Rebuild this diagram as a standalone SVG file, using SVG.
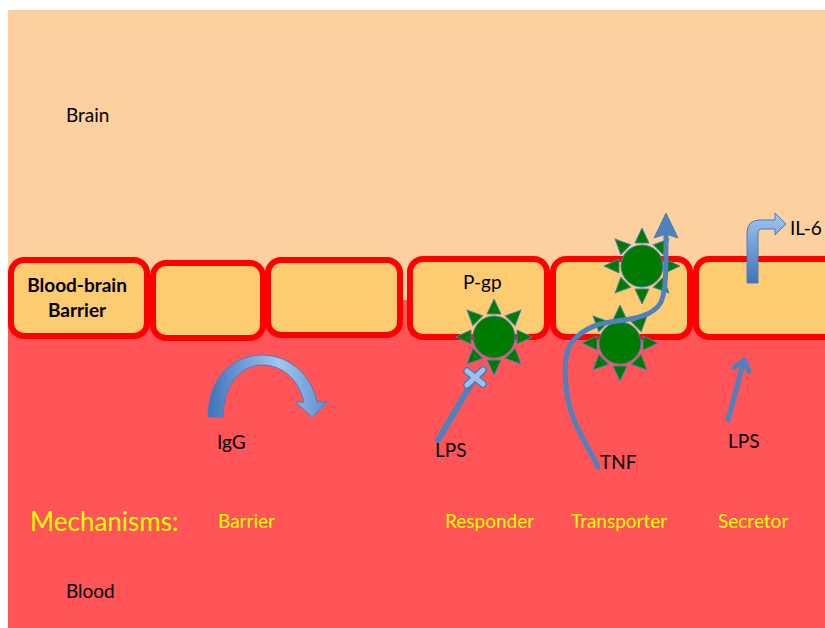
<svg xmlns="http://www.w3.org/2000/svg" width="825" height="628" viewBox="0 0 825 628">
  <style>
    .cell { fill: #FDCB70; stroke: #FF0000; stroke-width: 6; }
    .lbl { font-family: Lato, "Liberation Sans", sans-serif; font-size: 19px; fill: #000; }
    .bold { font-weight: bold; }
    .mech { font-family: Lato, "Liberation Sans", sans-serif; font-size: 19px; fill: #FFFF00; }
    .flow { fill: none; stroke: #4F81BD; stroke-linecap: round; stroke-linejoin: round; }
  </style>
  <defs>
    <!-- P-glycoprotein: green disc with eight triangular rays -->
    <g id="pgp">
      <g fill="#007A00" stroke="#4A7EBB" stroke-width="1">
        <polygon points="0,-38 -7,-23 7,-23"/>
        <polygon points="0,-38 -7,-23 7,-23" transform="rotate(45)"/>
        <polygon points="0,-38 -7,-23 7,-23" transform="rotate(90)"/>
        <polygon points="0,-38 -7,-23 7,-23" transform="rotate(135)"/>
        <polygon points="0,-38 -7,-23 7,-23" transform="rotate(180)"/>
        <polygon points="0,-38 -7,-23 7,-23" transform="rotate(225)"/>
        <polygon points="0,-38 -7,-23 7,-23" transform="rotate(270)"/>
        <polygon points="0,-38 -7,-23 7,-23" transform="rotate(315)"/>
        <circle r="21"/>
      </g>
    </g>
    <linearGradient id="archGrad" x1="0" y1="0" x2="1" y2="0">
      <stop offset="0" stop-color="#3D73BC"/>
      <stop offset="0.6" stop-color="#A3C6EE"/>
      <stop offset="1" stop-color="#5A8FD3"/>
    </linearGradient>
    <linearGradient id="bentGrad" x1="0" y1="0" x2="0" y2="1">
      <stop offset="0" stop-color="#A3C6EE"/>
      <stop offset="1" stop-color="#3D73BC"/>
    </linearGradient>
    <marker id="openHead" markerWidth="20" markerHeight="20" refX="13" refY="10" orient="auto" markerUnits="userSpaceOnUse">
      <path d="M3,2 L13,10 L3,18" fill="none" stroke="#4F81BD" stroke-width="5" stroke-linecap="round" stroke-linejoin="round"/>
    </marker>
  </defs>

  <!-- compartments -->
  <g id="background">
    <rect x="0" y="0" width="825" height="628" fill="#FFFFFF"/>
    <rect x="8" y="10" width="817" height="290" fill="#FDD09F"/>
    <rect x="8" y="300" width="817" height="328" fill="#FF5458"/>
  </g>

  <!-- endothelial cells of the barrier -->
  <g id="cell1"><rect class="cell" x="11" y="260" width="136" height="76" rx="13"/></g>
  <g id="cell2"><rect class="cell" x="153" y="263" width="110" height="75" rx="13"/></g>
  <g id="cell3"><rect class="cell" x="268" y="260" width="132" height="75" rx="13"/></g>
  <g id="cell4"><rect class="cell" x="410" y="259" width="137" height="78" rx="13"/></g>
  <g id="cell5"><rect class="cell" x="553" y="259" width="137" height="78" rx="13"/></g>
  <g id="cell6"><rect class="cell" x="696" y="259" width="150" height="78" rx="13"/></g>

  <!-- transporters -->
  <g id="pgp-responder"><use href="#pgp" x="494" y="337"/></g>
  <g id="pgp-transporter-upper"><use href="#pgp" x="642" y="266"/></g>
  <g id="pgp-transporter-lower"><use href="#pgp" x="620" y="343"/></g>

  <g id="connectors">
    <!-- IgG turned back by the barrier -->
    <path d="M208,417 C208,378 233,355 262,355 C290,355 312,376 317,402 L327,402 L312,417 L296,402 L304,402 C299,381 284,365 262,365 C241,365 223,385 223,417 Z" fill="url(#archGrad)" stroke="#4A7EBB" stroke-width="1"/>
    <!-- LPS blocked at the responder -->
    <line class="flow" x1="438" y1="440" x2="474" y2="379" stroke-width="6"/>
    <g stroke-linecap="round">
      <path d="M467,371 L483,384 M483,370 L467,385" stroke="#4A7EBB" stroke-width="8"/>
      <path d="M467,371 L483,384 M483,370 L467,385" stroke="#9CC0EA" stroke-width="5"/>
    </g>
    <!-- TNF carried across the cell -->
    <path class="flow" stroke-width="5" d="M598,467 C590,450 578,432 573,417 C566,400 564,376 566,357 C569,336 590,325 610,322 C634,319 654,316 661,302 C666,291 666,272 666,236"/>
    <polygon points="666,213 678,238 666,234 654,238" fill="#4F81BD" stroke="#4A7EBB" stroke-width="1"/>
    <!-- LPS signalling to the secretor -->
    <line class="flow" x1="728" y1="420" x2="744" y2="360" stroke-width="5" marker-end="url(#openHead)"/>
    <!-- IL-6 released into the brain -->
    <path d="M747,283 L747,233 Q747,220 760,220 L775,220 L775,213 L786,224 L775,235 L775,229 L762,229 Q758,229 758,234 L758,283 Z" fill="url(#bentGrad)" stroke="#4A7EBB" stroke-width="1"/>
  </g>

  <!-- labels -->
  <g id="labels">
    <text class="lbl" x="66" y="122">Brain</text>
    <text class="lbl bold" x="77" y="292" text-anchor="middle">Blood-brain</text>
    <text class="lbl bold" x="77" y="317" text-anchor="middle">Barrier</text>
    <text class="lbl" x="463" y="289">P-gp</text>
    <text class="lbl" x="217" y="449">IgG</text>
    <text class="lbl" x="435" y="457">LPS</text>
    <text class="lbl" x="600" y="469">TNF</text>
    <text class="lbl" x="728" y="448">LPS</text>
    <text class="lbl" x="790" y="235">IL-6</text>
    <text class="mech" x="30" y="531" style="font-size:26px">Mechanisms:</text>
    <text class="mech" x="218" y="528">Barrier</text>
    <text class="mech" x="445" y="528">Responder</text>
    <text class="mech" x="571" y="528">Transporter</text>
    <text class="mech" x="718" y="528">Secretor</text>
    <text class="lbl" x="66" y="598">Blood</text>
  </g>
</svg>
